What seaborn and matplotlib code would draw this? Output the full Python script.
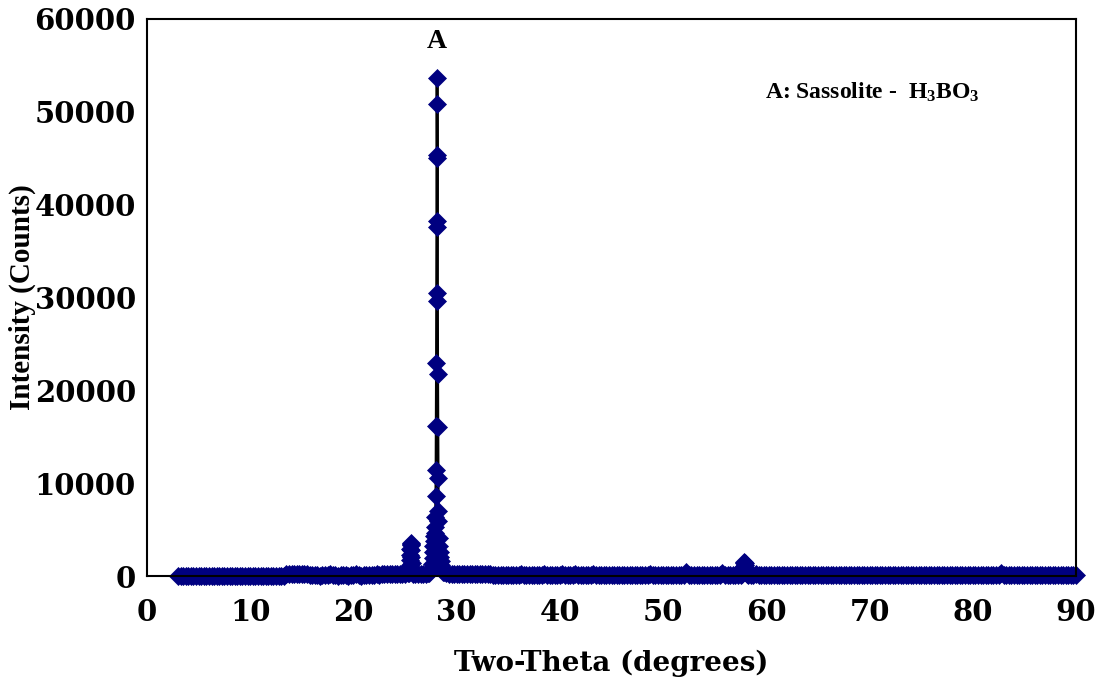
import numpy as np
import pandas as pd
import matplotlib
matplotlib.use("Agg")
import matplotlib.pyplot as plt
import seaborn as sns

# ---------------- data ----------------
# background scan, 0.25 deg grid from 3.00 to 90.00 deg
bg_theta = np.round(np.arange(3.0, 90.0001, 0.25), 2)
bg_counts = [
    50, 45, 45, 40, 40, 45, 40, 40,
    40, 40, 45, 40, 40, 40, 45, 40,
    40, 35, 40, 40, 35, 40, 40, 40,
    40, 35, 40, 35, 40, 35, 35, 40,
    35, 40, 35, 35, 40, 35, 40, 45,
    40, 50, 200, 220, 230, 240, 250, 230,
    220, 210, 210, 70, 60, 55, 60, 50,
    55, 60, 70, 170, 60, 55, 50, 60,
    160, 60, 50, 55, 60, 170, 60, 50,
    55, 60, 150, 60, 55, 170, 60, 190,
    200, 210, 200, 190, 210, 200, 220, 210,
    220, 280, 3500, 260, 210, 200, 190, 200,
    220, 350, 1500, 2500, 11400, 53600, 4100, 400,
    280, 260, 250, 240, 240, 250, 240, 230,
    230, 240, 230, 220, 230, 220, 240, 220,
    210, 200, 130, 80, 70, 75, 70, 65,
    70, 65, 70, 75, 70, 180, 70, 65,
    70, 65, 70, 65, 70, 65, 180, 70,
    65, 70, 65, 70, 70, 180, 70, 70,
    70, 70, 180, 70, 65, 70, 65, 70,
    70, 180, 70, 65, 70, 65, 70, 65,
    70, 65, 70, 65, 70, 65, 70, 65,
    65, 70, 65, 70, 70, 65, 70, 180,
    70, 65, 70, 65, 70, 65, 70, 65,
    70, 65, 70, 65, 70, 420, 70, 65,
    70, 65, 70, 65, 70, 65, 70, 65,
    70, 65, 70, 280, 70, 65, 70, 65,
    70, 65, 80, 900, 800, 80, 70, 65,
    200, 70, 65, 70, 65, 70, 65, 70,
    65, 70, 65, 70, 65, 70, 65, 70,
    65, 70, 65, 70, 65, 70, 65, 70,
    65, 70, 65, 70, 65, 70, 65, 70,
    65, 70, 65, 70, 65, 70, 65, 70,
    65, 70, 65, 70, 65, 70, 65, 70,
    65, 70, 65, 70, 65, 70, 65, 70,
    65, 70, 65, 70, 65, 70, 65, 70,
    65, 70, 65, 70, 65, 70, 65, 70,
    65, 70, 65, 70, 65, 70, 65, 70,
    65, 70, 65, 70, 65, 70, 65, 70,
    65, 70, 65, 70, 65, 70, 70, 280,
    65, 70, 65, 70, 65, 70, 65, 70,
    65, 70, 65, 70, 65, 70, 65, 70,
    65, 70, 65, 70, 65, 70, 65, 70,
    65, 70, 65, 70, 65,
]

# fine scan around the peaks
peak1_theta = [25.36, 25.40, 25.44, 25.46, 25.48, 25.50, 25.52, 25.54, 25.56,
               25.58, 25.60, 25.62, 25.64, 25.68, 25.72]
peak1_counts = [300, 500, 800, 1200, 1700, 2300, 2900, 3350, 3550,
                3400, 2800, 2100, 1400, 800, 400]

peakA_theta = [27.30, 27.40, 27.50, 27.60, 27.66, 27.70, 27.74, 27.78, 27.82,
               27.86, 27.90, 27.94, 27.98, 28.00, 28.02, 28.04, 28.06, 28.08,
               28.09, 28.10, 28.11, 28.12, 28.13, 28.14, 28.16, 28.18, 28.20,
               28.22, 28.24, 28.28, 28.32, 28.36, 28.40, 28.46, 28.52, 28.58,
               28.64, 28.70]
peakA_counts = [350, 500, 800, 1300, 1900, 2600, 3200, 3800, 4300,
                4600, 5300, 6400, 8600, 11400, 16200, 22900, 30500, 38200,
                45400, 53600, 50800, 45000, 37600, 29600, 21800, 16000, 10600,
                7000, 5900, 4100, 3200, 2600, 2100, 1600, 1200, 900,
                600, 450]

peak2_theta = [57.66, 57.72, 57.76, 57.80, 57.84, 57.88, 57.92, 57.96, 58.00,
               58.04, 58.10]
peak2_counts = [200, 450, 750, 1100, 1400, 1560, 1450, 1150, 800, 500, 250]

fine_windows = [(25.3, 25.75), (27.3, 28.75), (57.6, 58.2)]

x_ticks = [0, 10, 20, 30, 40, 50, 60, 70, 80, 90]
y_ticks = [0, 10000, 20000, 30000, 40000, 50000, 60000]

# ---------------- build table ----------------
n = min(len(bg_theta), len(bg_counts))
bg = pd.DataFrame({"theta": bg_theta[:n], "counts": bg_counts[:n]})
keep = np.ones(len(bg), dtype=bool)
for lo, hi in fine_windows:
    keep &= ~((bg["theta"] >= lo) & (bg["theta"] < hi))
bg = bg[keep]
fine = pd.DataFrame({
    "theta": peak1_theta + peakA_theta + peak2_theta,
    "counts": peak1_counts + peakA_counts + peak2_counts,
})
df = pd.concat([bg, fine]).sort_values("theta").reset_index(drop=True)

# ---------------- style ----------------
sns.set_theme(style="white")
plt.rcParams["font.family"] = ["Liberation Serif", "DejaVu Serif"]
plt.rcParams["font.weight"] = "bold"
plt.rcParams["text.color"] = "black"
plt.rcParams["axes.labelcolor"] = "black"
plt.rcParams["mathtext.fontset"] = "custom"
plt.rcParams["mathtext.rm"] = "Liberation Serif:bold"
plt.rcParams["mathtext.bf"] = "Liberation Serif:bold"
plt.rcParams["mathtext.it"] = "Liberation Serif:bold"

WIDE = ["DejaVu Serif"]

W, H = 1097, 687
fig = plt.figure(figsize=(W / 100, H / 100), dpi=100)
fig.patch.set_facecolor("white")
ax = fig.add_axes([147 / W, 1 - 576 / H, (1076 - 147) / W, (576 - 19) / H])
ax.set_facecolor("white")

sns.lineplot(data=df, x="theta", y="counts", estimator=None, sort=True,
             color="black", linewidth=2.0, marker="D", markersize=8.7,
             markerfacecolor="#000080", markeredgecolor="#000080",
             markeredgewidth=0.5, clip_on=False, ax=ax)

ax.set_xlim(0, 90)
ax.set_ylim(0, 60000)
ax.set_xticks(x_ticks)
ax.set_yticks(y_ticks)
ax.set_xticklabels([str(v) for v in x_ticks])
ax.set_yticklabels([str(v) for v in y_ticks])

for s in ax.spines.values():
    s.set_color("black")
    s.set_linewidth(1.5)
    s.set_visible(True)

ax.tick_params(axis="both", which="major", direction="out", length=5,
               width=1, color="#333333", labelcolor="black", labelsize=21)
ax.tick_params(axis="x", pad=11)
ax.tick_params(axis="y", pad=3)
for lab in ax.get_xticklabels() + ax.get_yticklabels():
    lab.set_fontweight("bold")
    lab.set_fontfamily(WIDE)

ax.set_xlabel("Two-Theta (degrees)", fontsize=20, fontweight="bold",
              family=WIDE, va="center")
ax.xaxis.set_label_coords(0.5, (576 - 663) / (576 - 19))
ax.set_ylabel("Intensity (Counts)", fontsize=21, fontweight="bold",
              va="center")
ax.yaxis.set_label_coords((22 - 147) / (1076 - 147), 0.5)

ax.text(28.1, 57600, "A", ha="center", va="center", fontsize=20,
        fontweight="bold")
ax.text(59.9, 52100, r"A: Sassolite -  $\mathbf{H_3BO_3}$", ha="left",
        va="center", fontsize=17, fontweight="bold")

fig.savefig("out.png", dpi=100, facecolor="white")
